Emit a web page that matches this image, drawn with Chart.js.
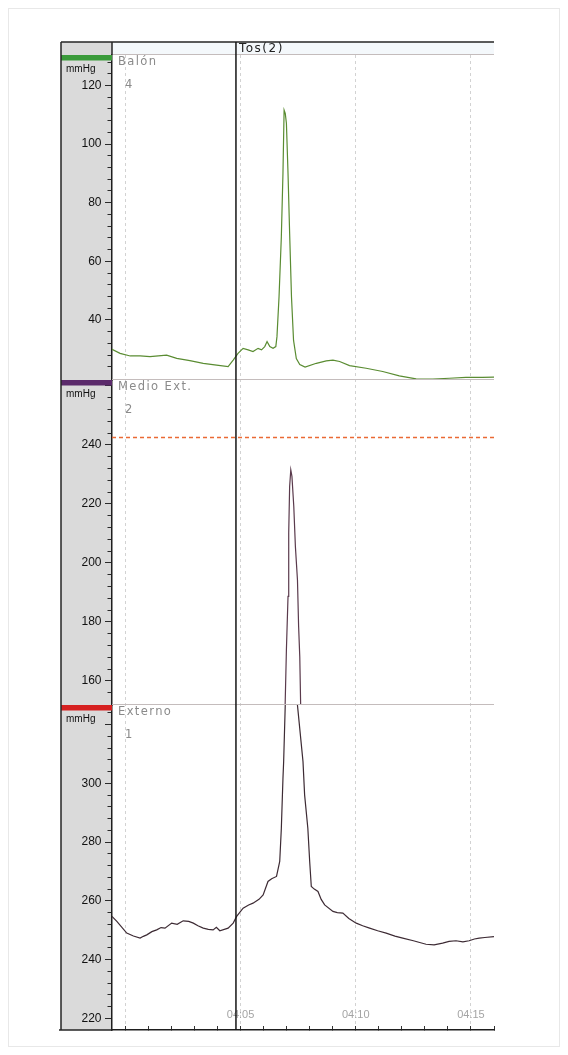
<!DOCTYPE html>
<html>
<head>
<meta charset="utf-8">
<script src="https://cdn.jsdelivr.net/npm/chart.js@4.4.1/dist/chart.umd.min.js"></script>
<style>
  html, body { margin: 0; padding: 0; background: #fff; }
  canvas { display: block; }
</style>
</head>
<body>
<canvas id="trace" width="568" height="1055"></canvas>
<script>
// Time axis in seconds, shown as mm:ss
const xMin = 239.42;
const xMax = 256.0;
const cursorTime = 244.8;
const eventLabel = 'Tos(2)';

// Channels, top to bottom
const panelNames = ['Balón', 'Medio Ext.', 'Externo'];
const panelNumbers = ['4', '2', '1'];
const panelUnits = ['mmHg', 'mmHg', 'mmHg'];
const yMins = [19.5, 151.8, 216.0];
const yMaxs = [130.4, 262.0, 326.7];

// Balón
const balonTime = [239.42, 239.77, 240.21, 240.64, 241.07, 241.79, 242.23, 242.80, 243.38, 243.96,
  244.46, 244.68, 244.89, 245.11, 245.33, 245.54, 245.76, 245.91, 246.05, 246.15,
  246.27, 246.41, 246.53, 246.58, 246.67, 246.77, 246.84, 246.89, 246.94, 246.99,
  247.06, 247.13, 247.21, 247.30, 247.42, 247.57, 247.80, 248.29, 248.72, 249.01,
  249.30, 249.73, 250.45, 251.17, 251.89, 252.62, 253.34, 254.06, 254.78, 255.50, 256.0];
const balonValue = [30.0, 28.6, 27.7, 27.7, 27.5, 28.0, 26.9, 26.1, 25.2, 24.6,
  24.1, 26.3, 28.6, 30.3, 29.8, 29.2, 30.3, 29.8, 30.9, 32.6,
  30.9, 30.3, 30.9, 34.3, 47.9, 68.4, 90.0, 111.6, 110.5, 107.1,
  90.0, 69.6, 47.9, 33.0, 26.8, 24.8, 23.9, 25.2, 26.0, 26.3,
  25.8, 24.4, 23.5, 22.4, 20.9, 19.9, 19.8, 20.1, 20.4, 20.4, 20.5];

// Medio Ext.
const medioTime = [239.42, 242.0, 244.8, 246.5, 246.92, 246.99, 247.06, 247.09, 247.13, 247.18,
  247.23, 247.31, 247.38, 247.47, 247.52, 247.57, 247.62, 248.2, 252.0, 256.0];
const medioValue = [141, 142, 144, 145, 146.8, 170.5, 188.6, 210.2, 225.9, 231.5,
  229.3, 219.1, 205.5, 194.2, 178.4, 168.2, 146.8, 145, 142, 141];
const medioRefTime = [xMin, xMax];
const medioRefValue = [242.5, 242.5];

// Externo
const externoTime = [239.42, 239.63, 240.06, 240.35, 240.64, 240.78, 240.93, 241.15, 241.36, 241.55,
  241.72, 242.01, 242.25, 242.51, 242.75, 242.95, 243.15, 243.38, 243.60, 243.81,
  243.95, 244.10, 244.46, 244.68, 244.83, 245.11, 245.35, 245.54, 245.80, 245.98,
  246.19, 246.35, 246.56, 246.70, 246.77, 246.84, 246.87, 246.94, 247.18, 247.44,
  247.71, 247.78, 247.92, 248.00, 248.07, 248.20, 248.36, 248.50, 248.65, 249.01,
  249.20, 249.44, 249.70, 250.02, 250.30, 250.60, 250.95, 251.32, 251.70, 252.04,
  252.50, 253.05, 253.40, 253.77, 254.05, 254.35, 254.65, 254.92, 255.15, 255.36,
  255.60, 256.0];
const externoValue = [254.7, 253.0, 249.0, 248.0, 247.3, 247.9, 248.4, 249.5, 250.1, 250.9,
  250.7, 252.4, 252.0, 253.2, 253.0, 252.4, 251.5, 250.7, 250.3, 250.1,
  251.0, 249.8, 250.7, 252.4, 254.7, 257.5, 258.6, 259.2, 260.5, 262.0,
  266.6, 267.5, 268.3, 273.4, 284.7, 301.7, 307.4, 326.8, 350.0, 329.0,
  307.4, 296.1, 284.7, 273.4, 264.9, 264.0, 263.2, 260.5, 258.6, 256.4,
  256.0, 255.8, 254.0, 252.4, 251.5, 250.7, 249.8, 249.0, 248.0, 247.3,
  246.4, 245.2, 245.0, 245.6, 246.2, 246.4, 246.0, 246.4, 247.0, 247.3,
  247.5, 247.8];

const barColors = ['#3b9b3b', '#5b2a6b', '#d62020'];
const lineColors = ['#5a8c32', '#5a3a4c', '#3d2b34'];
const refColor = '#ea6a34';

const sansFont = '"Liberation Sans", Arial, sans-serif';
const labelFont = '"DejaVu Sans", Verdana, sans-serif';

function points(ts, vs) {
  return ts.map((t, i) => ({ x: t, y: vs[i] }));
}

function clockLabel(sec) {
  const m = Math.floor(sec / 60);
  const s = Math.round(sec - m * 60);
  return String(m).padStart(2, '0') + ':' + String(s).padStart(2, '0');
}

function isMultiple(v, step) {
  return Math.abs(v / step - Math.round(v / step)) < 1e-6;
}

function channelAxis(i) {
  return {
    type: 'linear',
    position: 'left',
    stack: 'channels',
    stackWeight: 1,
    min: yMins[i],
    max: yMaxs[i],
    afterFit(scale) { scale.width = 51; },
    grid: {
      drawOnChartArea: false,
      drawTicks: true,
      tickLength: 7,
      tickWidth: 1,
      tickColor(ctx) {
        if (!ctx.tick) return '#2a2a2a';
        return (ctx.tick.value - yMins[i] < 1) ? 'rgba(0,0,0,0)' : '#2a2a2a';
      },
      tickBorderDash(ctx) {
        return (ctx.tick && !isMultiple(ctx.tick.value, 20)) ? [0, 2.5, 5, 30] : [];
      }
    },
    border: { display: true, color: '#1e1e1e', width: 1.5 },
    ticks: {
      stepSize: 4,
      autoSkip: false,
      includeBounds: false,
      padding: 3.5,
      color: '#111',
      font: { family: sansFont, size: 12 },
      callback(v) {
        if (!isMultiple(v, 20)) return '';
        if (yMaxs[i] - v < 8 || v - yMins[i] < 1) return '';
        return String(Math.round(v));
      }
    }
  };
}

// Restrict each trace to its own channel band
const channelClip = {
  id: 'channelClip',
  beforeDatasetDraw(chart, args) {
    const m = args.meta;
    const ctx = chart.ctx;
    ctx.save();
    ctx.beginPath();
    ctx.rect(m.xScale.left, m.yScale.top, m.xScale.width, m.yScale.height);
    ctx.clip();
  },
  afterDatasetDraw(chart) {
    chart.ctx.restore();
  }
};

const recorderFrame = {
  id: 'recorderFrame',
  beforeDraw(chart) {
    const { ctx, chartArea: a, scales } = chart;
    const gLeft = scales.yB.left;
    const headTop = a.top - 13;
    ctx.save();
    ctx.fillStyle = '#ffffff';
    ctx.fillRect(0, 0, chart.width, chart.height);
    ctx.strokeStyle = '#e8e8e8';
    ctx.lineWidth = 1;
    ctx.strokeRect(8.5, 8.5, chart.width - 17, chart.height - 17);
    ctx.fillStyle = '#dadada';
    ctx.fillRect(gLeft, headTop, a.left - gLeft, a.bottom - headTop);
    ctx.fillStyle = '#f4f8fb';
    ctx.fillRect(a.left, headTop, a.right - a.left, a.top - headTop);
    ctx.restore();
  },
  afterDraw(chart) {
    const { ctx, chartArea: a, scales } = chart;
    const panels = [scales.yB, scales.yM, scales.yE];
    const gLeft = scales.yB.left;
    const headTop = a.top - 13;
    ctx.save();

    // band separators
    ctx.strokeStyle = '#c4bcbc';
    ctx.lineWidth = 1;
    panels.forEach(p => {
      const yy = Math.round(p.top) - 0.5;
      ctx.beginPath();
      ctx.moveTo(a.left, yy);
      ctx.lineTo(a.right, yy);
      ctx.stroke();
    });

    // channel headers
    panels.forEach((p, i) => {
      ctx.fillStyle = barColors[i];
      ctx.fillRect(gLeft, p.top, a.left - gLeft, 5.5);

      ctx.fillStyle = '#111';
      ctx.font = '10px ' + sansFont;
      ctx.textAlign = 'left';
      ctx.textBaseline = 'middle';
      ctx.fillText(panelUnits[i], gLeft + 5, p.top + 14.5);

      ctx.fillStyle = '#8a8a8a';
      ctx.font = '11.5px ' + labelFont;
      if ('letterSpacing' in ctx) ctx.letterSpacing = '1.4px';
      ctx.fillText(panelNames[i], a.left + 6, p.top + 7.5);
      if ('letterSpacing' in ctx) ctx.letterSpacing = '0px';
      ctx.fillText(panelNumbers[i], a.left + 13, p.top + 30.5);
    });

    // outer frame of the recorder view
    ctx.strokeStyle = '#262626';
    ctx.lineWidth = 1.5;
    ctx.beginPath();
    ctx.moveTo(gLeft, headTop);
    ctx.lineTo(a.right, headTop);
    ctx.moveTo(gLeft, headTop);
    ctx.lineTo(gLeft, a.bottom);
    ctx.moveTo(gLeft - 2, a.bottom);
    ctx.lineTo(a.left, a.bottom);
    ctx.moveTo(a.left, headTop);
    ctx.lineTo(a.left, a.top);
    ctx.stroke();

    // event cursor
    const cx = scales.x.getPixelForValue(cursorTime);
    ctx.strokeStyle = '#151515';
    ctx.lineWidth = 1.5;
    ctx.beginPath();
    ctx.moveTo(cx, headTop);
    ctx.lineTo(cx, a.bottom);
    ctx.stroke();

    ctx.fillStyle = '#222';
    ctx.font = '12px ' + labelFont;
    ctx.textAlign = 'left';
    ctx.textBaseline = 'middle';
    if ('letterSpacing' in ctx) ctx.letterSpacing = '1.5px';
    ctx.fillText(eventLabel, cx + 3, headTop + 7);
    if ('letterSpacing' in ctx) ctx.letterSpacing = '0px';

    ctx.restore();
  }
};

const traceStyle = (color) => ({
  borderColor: color,
  borderWidth: 1.2,
  pointRadius: 0,
  tension: 0,
  fill: false
});

new Chart(document.getElementById('trace'), {
  type: 'line',
  data: {
    datasets: [
      Object.assign({ label: panelNames[0], data: points(balonTime, balonValue), yAxisID: 'yB' }, traceStyle(lineColors[0])),
      Object.assign({ label: 'ref', data: points(medioRefTime, medioRefValue), yAxisID: 'yM' }, traceStyle(refColor), { borderDash: [4, 3], borderWidth: 1.3 }),
      Object.assign({ label: panelNames[1], data: points(medioTime, medioValue), yAxisID: 'yM' }, traceStyle(lineColors[1])),
      Object.assign({ label: panelNames[2], data: points(externoTime, externoValue), yAxisID: 'yE' }, traceStyle(lineColors[2]))
    ]
  },
  options: {
    responsive: false,
    animation: false,
    devicePixelRatio: 1,
    layout: { padding: { left: 61, top: 55, right: 74, bottom: 25 } },
    plugins: { legend: { display: false }, tooltip: { enabled: false } },
    scales: {
      x: {
        type: 'linear',
        position: 'bottom',
        min: xMin,
        max: xMax,
        afterFit(scale) { scale.height = 0; },
        grid: {
          drawOnChartArea: true,
          drawTicks: true,
          tickLength: -4,
          lineWidth: 1,
          color(ctx) {
            return (ctx.tick && isMultiple(ctx.tick.value, 5)) ? '#d2d2d2' : 'rgba(0,0,0,0)';
          },
          tickColor: '#333',
          tickWidth: 1
        },
        border: { display: true, color: '#1e1e1e', width: 1.5, dash: [3, 3] },
        ticks: {
          stepSize: 1,
          autoSkip: false,
          includeBounds: false,
          maxRotation: 0,
          minRotation: 0,
          mirror: true,
          padding: 8,
          color: '#a4a4a4',
          font: { family: sansFont, size: 11 },
          callback(v) {
            return (isMultiple(v, 5) && v > 240.5) ? clockLabel(v) : '';
          }
        }
      },
      // stacked left axes are laid out last-defined on top
      yE: channelAxis(2),
      yM: channelAxis(1),
      yB: channelAxis(0)
    }
  },
  plugins: [channelClip, recorderFrame]
});
</script>
</body>
</html>
